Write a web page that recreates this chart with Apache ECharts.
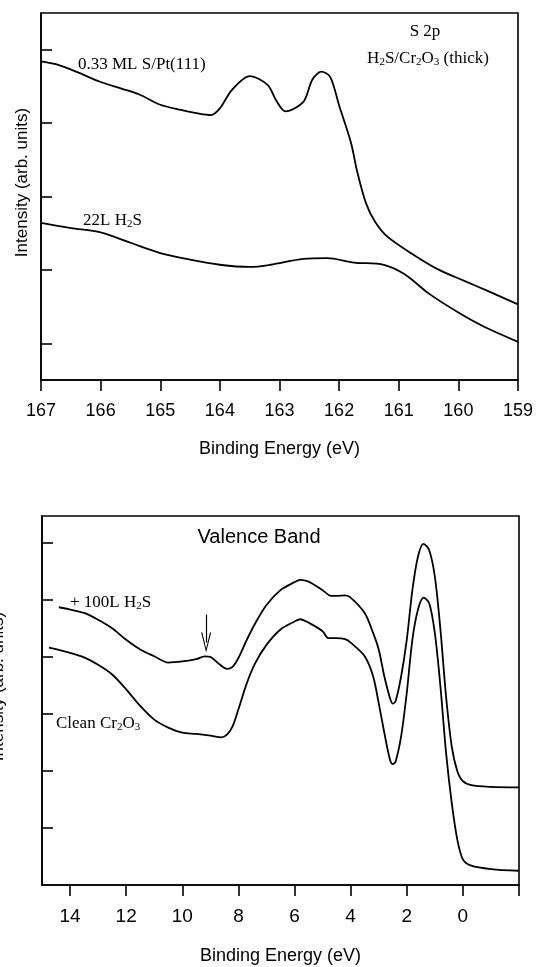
<!DOCTYPE html>
<html>
<head>
<meta charset="utf-8">
<script src="https://cdn.jsdelivr.net/npm/echarts@6.0.0/dist/echarts.min.js"></script>
<style>
  html, body { margin: 0; padding: 0; background: #fff; }
  #chart { width: 537px; height: 967px; }
</style>
</head>
<body>
<div id="chart"></div>
<script>
// ---- S 2p panel (top) ----
const s2pTicks = [167, 166, 165, 164, 163, 162, 161, 160, 159];
const s2pYTicks = [0, 1, 2, 3, 4];
// 0.33 ML S/Pt(111) reference curve
const ptX = [167.0, 166.7, 166.35, 166.0, 165.65, 165.35, 165.0, 164.65, 164.35, 164.15, 164.0, 163.8, 163.5, 163.2, 163.05, 162.9, 162.6, 162.45, 162.3, 162.15, 162.0, 161.8, 161.7, 161.55, 161.4, 161.2, 160.8, 160.35, 159.9, 159.5, 159.0];
const ptY = [3.84, 3.79, 3.68, 3.56, 3.47, 3.39, 3.25, 3.18, 3.13, 3.11, 3.20, 3.45, 3.64, 3.52, 3.30, 3.16, 3.29, 3.59, 3.70, 3.63, 3.24, 2.73, 2.35, 1.91, 1.66, 1.46, 1.23, 1.01, 0.85, 0.71, 0.53];
// 22L H2S on Cr2O3
const h2sX = [167.0, 166.5, 166.0, 165.5, 165.0, 164.5, 164.0, 163.5, 163.15, 162.6, 162.2, 161.75, 161.25, 160.9, 160.5, 160.0, 159.6, 159.0];
const h2sY = [1.64, 1.57, 1.51, 1.37, 1.23, 1.14, 1.07, 1.04, 1.07, 1.15, 1.16, 1.10, 1.07, 0.94, 0.68, 0.42, 0.24, 0.02];

// ---- Valence band panel (bottom) ----
const vbTicks = [14, 12, 10, 8, 6, 4, 2, 0, -2];
const vbLabels = [14, 12, 10, 8, 6, 4, 2, 0];
const vbYTicks = [1, 2, 3, 4, 5, 6];
// + 100L H2S
const vbH2sX = [14.4, 14, 13.5, 13, 12.5, 12, 11.5, 11, 10.5, 10, 9.5, 9.2, 9, 8.7, 8.4, 8.2, 8, 7.7, 7.4, 7, 6.5, 6, 5.8, 5.5, 5, 4.7, 4.5, 4.2, 4, 3.5, 3.2, 3, 2.8, 2.6, 2.5, 2.4, 2.2, 2, 1.8, 1.6, 1.4, 1.2, 1, 0.8, 0.6, 0.4, 0.2, 0, -0.3, -1, -2];
const vbH2sY = [4.87, 4.83, 4.77, 4.65, 4.50, 4.30, 4.13, 4.01, 3.90, 3.92, 3.96, 4.01, 4.00, 3.88, 3.79, 3.83, 3.98, 4.30, 4.59, 4.91, 5.17, 5.31, 5.35, 5.32, 5.17, 5.07, 5.07, 5.08, 5.04, 4.77, 4.42, 4.13, 3.66, 3.28, 3.18, 3.22, 3.66, 4.30, 5.17, 5.76, 5.98, 5.87, 5.41, 4.48, 3.31, 2.44, 2.00, 1.82, 1.75, 1.72, 1.71];
// clean Cr2O3
const cleanX = [14.75, 14, 13.5, 13, 12.5, 12, 11.5, 11, 10.5, 10, 9.5, 9, 8.6, 8.4, 8.2, 8, 7.7, 7.4, 7, 6.5, 6, 5.8, 5.5, 5, 4.8, 4.5, 4.2, 4, 3.5, 3.2, 3, 2.8, 2.6, 2.5, 2.4, 2.2, 2, 1.8, 1.6, 1.4, 1.2, 1, 0.8, 0.6, 0.4, 0.2, 0, -0.3, -1, -2];
const cleanY = [4.16, 4.07, 3.99, 3.86, 3.69, 3.43, 3.14, 2.90, 2.76, 2.67, 2.65, 2.62, 2.59, 2.64, 2.79, 3.08, 3.54, 3.89, 4.21, 4.48, 4.62, 4.66, 4.60, 4.45, 4.33, 4.33, 4.31, 4.25, 4.01, 3.66, 3.19, 2.67, 2.20, 2.12, 2.16, 2.61, 3.37, 4.30, 4.83, 5.04, 4.94, 4.42, 3.48, 2.32, 1.45, 0.80, 0.45, 0.34, 0.28, 0.25];
// arrow marking the S 3p feature
const arrowX = 9.15;
const arrowY = [4.74, 4.25];

const serif = '"Liberation Serif", "Times New Roman", serif';
const sans = '"Liberation Sans", Arial, sans-serif';

function pairs(xs, ys) {
  return xs.map((x, i) => [x, ys[i]]);
}

// text with subscripts: {n|..} normal, {s|..} subscript
const subRich = {
  n: { fontFamily: serif, fontSize: 17, lineHeight: 18, fill: '#000' },
  s: { fontFamily: serif, fontSize: 11, lineHeight: 8, verticalAlign: 'bottom', fill: '#000' },
};
function note(x, y, text, align) {
  return {
    type: 'text', x: x, y: y, silent: true,
    style: { text: text, rich: subRich, align: align || 'left', verticalAlign: 'middle', fill: '#000' },
  };
}

function xAxisOf(gridIndex, min, max, ticks, labels, fs, margin, gap) {
  return {
    type: 'value', gridIndex: gridIndex, min: min, max: max, inverse: true,
    axisLine: { show: true, onZero: false, lineStyle: { color: '#000', width: 1.6 } },
    axisTick: { show: true, inside: false, length: 11, customValues: ticks, lineStyle: { color: '#000', width: 1.6 } },
    axisLabel: { customValues: labels, color: '#000', fontSize: fs, fontFamily: sans, margin: margin },
    splitLine: { show: false },
    name: 'Binding Energy (eV)', nameLocation: 'middle', nameGap: gap,
    nameTextStyle: { color: '#000', fontSize: 18, fontFamily: sans },
  };
}
function yAxisOf(gridIndex, min, max, ticks, gap) {
  return {
    type: 'value', gridIndex: gridIndex, min: min, max: max,
    axisLine: { show: true, onZero: false, lineStyle: { color: '#000', width: 1.6 } },
    axisTick: { show: true, inside: true, length: 11, customValues: ticks, lineStyle: { color: '#000', width: 1.6 } },
    axisLabel: { show: false },
    splitLine: { show: false },
    name: 'Intensity (arb. units)', nameLocation: 'middle', nameGap: gap,
    nameTextStyle: { color: '#000', fontSize: 17, fontFamily: sans, padding: [0, 0, 0, 28] },
  };
}

const lineStyle = { color: '#000', width: 1.8 };

const chart = echarts.init(document.getElementById('chart'));
chart.setOption({
  animation: false,
  backgroundColor: '#fff',
  grid: [
    { left: 41, top: 13, width: 477, height: 367, show: true, borderColor: '#000', borderWidth: 1.6, outerBoundsMode: 'none' },
    { left: 42, top: 516, width: 477, height: 369, show: true, borderColor: '#000', borderWidth: 1.6, outerBoundsMode: 'none' },
  ],
  xAxis: [
    xAxisOf(0, 159, 167, s2pTicks, s2pTicks, 18, 22, 60),
    xAxisOf(1, -2, 15, vbTicks, vbLabels, 19, 22, 62),
  ],
  yAxis: [
    yAxisOf(0, -0.5, 4.5, s2pYTicks, 10),
    yAxisOf(1, 0, 6.47, vbYTicks, 35),
  ],
  series: [
    { name: '0.33 ML S/Pt(111)', type: 'line', xAxisIndex: 0, yAxisIndex: 0, data: pairs(ptX, ptY), showSymbol: false, smooth: 0.3, lineStyle: lineStyle },
    { name: '22L H2S', type: 'line', xAxisIndex: 0, yAxisIndex: 0, data: pairs(h2sX, h2sY), showSymbol: false, smooth: 0.3, lineStyle: lineStyle },
    {
      name: '+ 100L H2S', type: 'line', xAxisIndex: 1, yAxisIndex: 1, data: pairs(vbH2sX, vbH2sY), showSymbol: false, smooth: 0.3, lineStyle: lineStyle,
      markLine: {
        silent: true,
        label: { show: false },
        lineStyle: { color: '#000', width: 1.2, type: 'solid' },
        symbol: ['none', 'path://M0,100 L50,0 L100,100 L88,100 L50,20 L12,100 Z'],
        symbolSize: [10, 20],
        data: [[{ coord: [arrowX, arrowY[0]] }, { coord: [arrowX, arrowY[1]] }]],
      },
    },
    { name: 'Clean Cr2O3', type: 'line', xAxisIndex: 1, yAxisIndex: 1, data: pairs(cleanX, cleanY), showSymbol: false, smooth: 0.3, lineStyle: lineStyle },
  ],
  graphic: [
    { type: 'text', x: 425, y: 32, silent: true, style: { text: 'S 2p', font: '17px ' + serif, fill: '#000', align: 'center', verticalAlign: 'middle' } },
    note(428, 59, '{n|H}{s|2}{n|S/Cr}{s|2}{n|O}{s|3}{n| (thick)}', 'center'),
    note(78, 65, '{n|0.33 ML S/Pt(111)}'),
    note(83, 221, '{n|22L H}{s|2}{n|S}'),
    { type: 'text', x: 259, y: 537, silent: true, style: { text: 'Valence Band', font: '20px ' + sans, fill: '#000', align: 'center', verticalAlign: 'middle' } },
    note(70, 603, '{n|+ 100L H}{s|2}{n|S}'),
    note(56, 724, '{n|Clean Cr}{s|2}{n|O}{s|3}'),
  ],
});
</script>
</body>
</html>
